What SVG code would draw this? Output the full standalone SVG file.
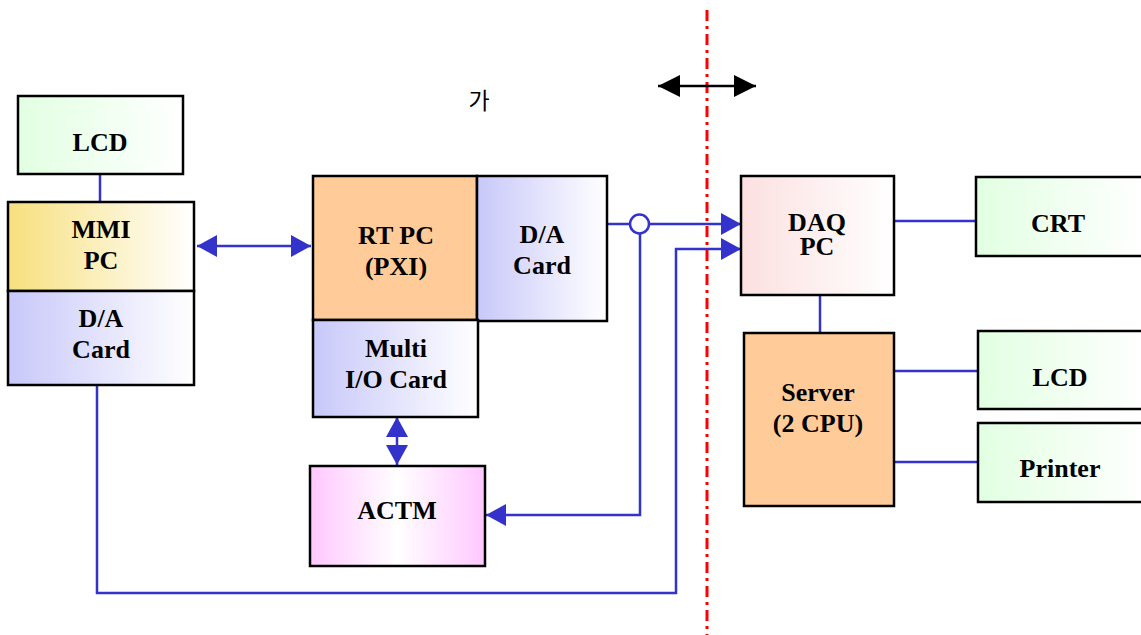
<svg xmlns="http://www.w3.org/2000/svg" width="1141" height="635" viewBox="0 0 1141 635">
<style>
.box{stroke:#000;stroke-width:2.5}
.t{font-family:"Liberation Serif","Times New Roman",serif;font-weight:bold;font-size:26px;fill:#000;text-anchor:middle}
.c{stroke:#3333cc;stroke-width:2.5;fill:none}
</style>
<defs>
<linearGradient id="gGreen" x1="0" y1="0" x2="1" y2="0"><stop offset="0" stop-color="#e2ffe2"/><stop offset="1" stop-color="#ffffff"/></linearGradient>
<linearGradient id="gYellow" x1="0" y1="0" x2="1" y2="0"><stop offset="0" stop-color="#f7e07e"/><stop offset="1" stop-color="#ffffff"/></linearGradient>
<linearGradient id="gBlue" x1="0" y1="0" x2="1" y2="0"><stop offset="0" stop-color="#c8c8fa"/><stop offset="1" stop-color="#ffffff"/></linearGradient>
<linearGradient id="gRose" x1="0" y1="0" x2="1" y2="0"><stop offset="0" stop-color="#fce0e0"/><stop offset="1" stop-color="#ffffff"/></linearGradient>
<linearGradient id="gPink" x1="0" y1="0" x2="1" y2="0"><stop offset="0" stop-color="#ffc8ff"/><stop offset="0.5" stop-color="#ffffff"/><stop offset="1" stop-color="#ffc8ff"/></linearGradient>
<marker id="ab" viewBox="0 0 20 22" refX="20" refY="11" markerWidth="20" markerHeight="22" markerUnits="userSpaceOnUse" orient="auto-start-reverse"><path d="M0,0 L20,11 L0,22 Z" fill="#3333cc"/></marker>
<marker id="ak" viewBox="0 0 22 22" refX="22" refY="11" markerWidth="22" markerHeight="22" markerUnits="userSpaceOnUse" orient="auto-start-reverse"><path d="M0,0 L22,11 L0,22 Z" fill="#000"/></marker>
</defs>
<rect width="1141" height="635" fill="#fff"/>
<g id="connectors">
<line class="c" x1="100" y1="174" x2="100" y2="202"/>
<line class="c" x1="197" y1="246" x2="311" y2="246" marker-start="url(#ab)" marker-end="url(#ab)"/>
<line class="c" x1="397" y1="417" x2="397" y2="465" marker-start="url(#ab)" marker-end="url(#ab)"/>
<line class="c" x1="607" y1="224" x2="630" y2="224"/>
<line class="c" x1="649" y1="224" x2="741" y2="224" marker-end="url(#ab)"/>
<circle class="c" cx="639.5" cy="224" r="9.5"/>
<polyline class="c" points="640,233.5 640,515 486,515" marker-end="url(#ab)"/>
<polyline class="c" points="97,385 97,593 676,593 676,249 741,249" marker-end="url(#ab)"/>
<line class="c" x1="820" y1="295" x2="820" y2="333"/>
<line class="c" x1="894" y1="221" x2="976" y2="221"/>
<line class="c" x1="894" y1="371" x2="978" y2="371"/>
<line class="c" x1="894" y1="462" x2="978" y2="462"/>
<line x1="707" y1="10" x2="707" y2="635" stroke="#ff0000" stroke-width="3" stroke-dasharray="11 5 3 5"/>
<line x1="658" y1="86" x2="756" y2="86" stroke="#000" stroke-width="2.5" marker-start="url(#ak)" marker-end="url(#ak)"/>
</g>
<text x="479" y="109" font-family="'Noto Sans CJK KR','Noto Sans',sans-serif" font-size="23" text-anchor="middle" fill="#000">가</text>
<g id="lcd1"><rect class="box" x="18" y="96" width="165" height="78" fill="url(#gGreen)"/><text class="t" x="100" y="151">LCD</text></g>
<g id="mmi"><rect class="box" x="8" y="202" width="186" height="89" fill="url(#gYellow)"/><text class="t" x="101" y="238">MMI</text><text class="t" x="101" y="269">PC</text></g>
<g id="da1"><rect class="box" x="8" y="291" width="186" height="94" fill="url(#gBlue)"/><text class="t" x="101" y="327">D/A</text><text class="t" x="101" y="358">Card</text></g>
<g id="rtpc"><rect class="box" x="313" y="176" width="164" height="144" fill="#ffcc99"/><text class="t" x="396" y="244">RT PC</text><text class="t" x="396" y="275">(PXI)</text></g>
<g id="da2"><rect class="box" x="477" y="176" width="130" height="145" fill="url(#gBlue)"/><text class="t" x="542" y="243">D/A</text><text class="t" x="542" y="274">Card</text></g>
<g id="mio"><rect class="box" x="313" y="320" width="165" height="97" fill="url(#gBlue)"/><text class="t" x="396" y="357">Multi</text><text class="t" x="396" y="388">I/O Card</text></g>
<g id="actm"><rect class="box" x="310" y="466" width="175" height="100" fill="url(#gPink)"/><text class="t" x="397" y="519">ACTM</text></g>
<g id="daq"><rect class="box" x="741" y="176" width="153" height="119" fill="url(#gRose)"/><text class="t" x="817" y="231">DAQ</text><text class="t" x="817" y="255">PC</text></g>
<g id="server"><rect class="box" x="744" y="333" width="150" height="173" fill="#ffcc99"/><text class="t" x="818" y="401">Server</text><text class="t" x="818" y="432">(2 CPU)</text></g>
<g id="crt"><rect class="box" x="976" y="177" width="168" height="79" fill="url(#gGreen)"/><text class="t" x="1058" y="232">CRT</text></g>
<g id="lcd2"><rect class="box" x="978" y="331" width="166" height="78" fill="url(#gGreen)"/><text class="t" x="1060" y="386">LCD</text></g>
<g id="printer"><rect class="box" x="978" y="423" width="166" height="79" fill="url(#gGreen)"/><text class="t" x="1060" y="477">Printer</text></g>
</svg>
